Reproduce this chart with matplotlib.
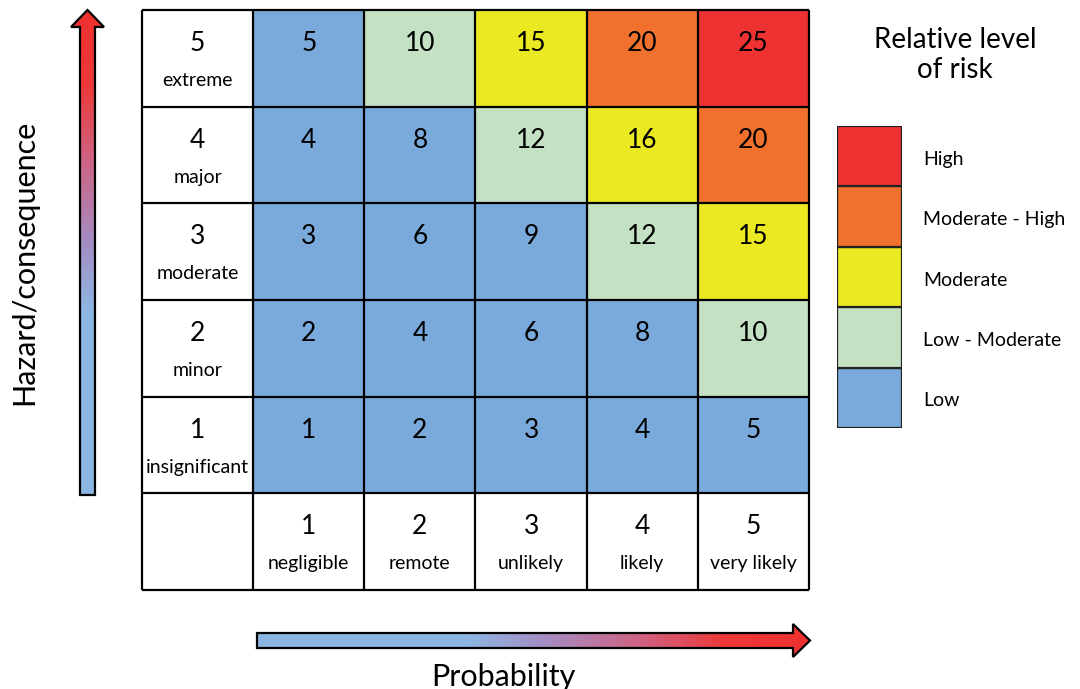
import numpy as np
import matplotlib.pyplot as plt
from matplotlib.colors import ListedColormap, BoundaryNorm, LinearSegmentedColormap
from matplotlib.patches import Polygon

plt.rcParams['font.family'] = ['Lato', 'DejaVu Sans']

# risk matrix, rows = consequence 1..5, columns = probability 1..5
risk = [
    [1, 2, 3, 4, 5],
    [2, 4, 6, 8, 10],
    [3, 6, 9, 12, 15],
    [4, 8, 12, 16, 20],
    [5, 10, 15, 20, 25],
]
consequence_labels = ['insignificant', 'minor', 'moderate', 'major', 'extreme']
probability_labels = ['negligible', 'remote', 'unlikely', 'likely', 'very likely']

levels = ['Low', 'Low - Moderate', 'Moderate', 'Moderate - High', 'High']
level_colors = ['#7aaadb', '#c4e2c3', '#ebe921', '#f0712d', '#ee3131']
level_bounds = [0, 9.5, 13, 18, 22, 26]

fig = plt.figure(figsize=(10.8, 6.89), dpi=100)

# overlay in pixel coordinates for the arrows and axis titles
over = fig.add_axes([0, 0, 1, 1])
over.set_xlim(0, 1080)
over.set_ylim(689, 0)
over.axis('off')

grad = LinearSegmentedColormap.from_list(
    'grad', [(0, '#8db7e3'), (0.38, '#8db7e3'), (0.52, '#a48dc3'),
             (0.68, '#cc6688'), (0.85, '#ee3838'), (1, '#ee3030')])


def gradient_arrow(pts, extent, vertical):
    poly = Polygon(pts, closed=True, facecolor='none', edgecolor='black', lw=1.6, zorder=3)
    over.add_patch(poly)
    g = np.linspace(0, 1, 256)
    img = g[::-1, None] if vertical else g[None, :]
    im = over.imshow(img, cmap=grad, extent=extent, aspect='auto', zorder=2, origin='upper')
    im.set_clip_path(poly)


# vertical arrow (up)
gradient_arrow([(80, 495), (95, 495), (95, 27), (104, 27), (87.5, 10), (71, 27), (80, 27)],
               (71, 104, 495, 10), True)
# horizontal arrow (right)
gradient_arrow([(257, 633), (793, 633), (793, 624), (810, 640.5), (793, 657), (793, 648), (257, 648)],
               (257, 810, 657, 624), False)

over.text(24, 262, 'Hazard/consequence', rotation=90, ha='center', va='center', fontsize=22)
over.text(503, 677, 'Probability', ha='center', va='center', fontsize=22)

# grid
ax = fig.add_axes([142 / 1080, 99 / 689, 667 / 1080, 580 / 689])
cmap = ListedColormap(level_colors)
norm = BoundaryNorm(level_bounds, cmap.N)
arr = np.array(risk)
n = arr.shape[0]
ax.pcolormesh(np.arange(1, n + 2), np.arange(1, n + 2), arr, cmap=cmap, norm=norm)
for r in range(n):
    for c in range(n):
        ax.text(c + 1.5, r + 1.655, str(risk[r][c]), ha='center', va='center', fontsize=19)
    ax.text(0.5, r + 1.655, str(r + 1), ha='center', va='center', fontsize=19)
    ax.text(0.5, r + 1.27, consequence_labels[r], ha='center', va='center', fontsize=14)
for c in range(n):
    ax.text(c + 1.5, 0.655, str(c + 1), ha='center', va='center', fontsize=19)
    ax.text(c + 1.5, 0.27, probability_labels[c], ha='center', va='center', fontsize=14)
ax.hlines(np.arange(n + 2), 0, n + 1, color='black', lw=1.6, clip_on=False)
ax.vlines(np.arange(n + 2), 0, n + 1, color='black', lw=1.6, clip_on=False)
ax.set_xlim(0, n + 1)
ax.set_ylim(0, n + 1)
ax.axis('off')

# legend
lg = fig.add_axes([837 / 1080, 261 / 689, 65 / 1080, 302 / 689])
for i, (lab, col) in enumerate(zip(levels, level_colors)):
    lg.bar(0, 1, bottom=i, width=1, color=col, edgecolor='#222222', lw=1.6)
    lg.text(0.82, i + 0.45, lab, ha='left', va='center', fontsize=14)
lg.set_xlim(-0.5, 0.5)
lg.set_ylim(0, len(levels))
lg.axis('off')
over.text(955, 55, 'Relative level\nof risk', ha='center', va='center', fontsize=20, linespacing=1.2)

fig.savefig('out.png', dpi=100)
